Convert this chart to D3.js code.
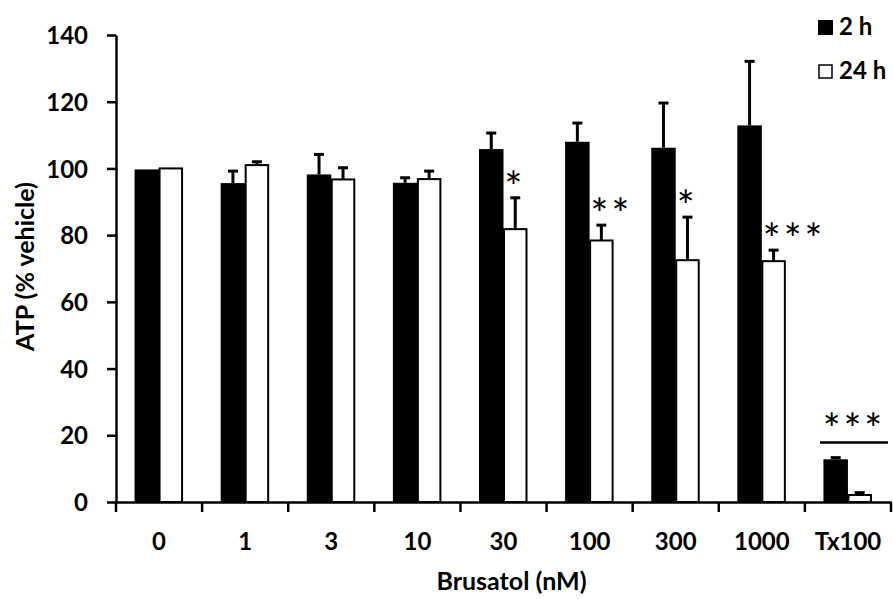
<!DOCTYPE html>
<html>
<head>
<meta charset="utf-8">
<script src="https://cdn.jsdelivr.net/npm/d3@7"></script>
<style>
  html, body { margin: 0; padding: 0; background: #fff; }
  svg { display: block; }
  text { font-family: Lato, "Open Sans", sans-serif; fill: #000; }
</style>
</head>
<body>
<svg id="chart" width="893" height="599"></svg>
<script>
// ---- data ----
const categories = ["0", "1", "3", "10", "30", "100", "300", "1000", "Tx100"];
const seriesNames = ["2 h", "24 h"];
const mean2h  = [99.7, 95.6, 98.2, 95.7, 105.8, 108.0, 106.2, 112.9, 12.8];
const err2h   = [0, 3.6, 6.0, 1.5, 4.8, 5.6, 13.4, 19.2, 0.5];
const mean24h = [100.0, 101.0, 96.7, 96.8, 81.8, 78.4, 72.5, 72.2, 2.1];
const err24h  = [0, 1.0, 3.5, 2.4, 9.4, 4.6, 12.9, 3.3, 0.7];
const sig24h  = ["", "", "", "", "*", "**", "*", "***", ""];
const yTicks  = [0, 20, 40, 60, 80, 100, 120, 140];
const txBracketValue = 17.8;
const txBracketLabel = "***";
const xTitle = "Brusatol (nM)";
const yTitle = "ATP (% vehicle)";

// ---- layout ----
const svg = d3.select("#chart");
const mLeft = 116, mRight = 891, mTop = 35, mBottom = 502;
const x = d3.scaleBand().domain(categories).range([mLeft, mRight]).paddingInner(0).paddingOuter(0);
const y = d3.scaleLinear().domain([0, 140]).range([mBottom, mTop]);
const barW = 24.5;
const center = c => x(c) + x.bandwidth() / 2;
const starFont = "'DejaVu Sans', sans-serif";
const starSize = 42;

const g = svg.append("g");
const rows = categories.map((c, i) => ({c, m2: mean2h[i], e2: err2h[i], m24: mean24h[i], e24: err24h[i], s: sig24h[i]}));

function errBar(sel, xf, mf, ef) {
  const d = sel.filter(r => ef(r) > 0);
  d.append("line")
    .attr("x1", xf).attr("x2", xf)
    .attr("y1", r => y(mf(r))).attr("y2", r => y(mf(r) + ef(r)))
    .attr("stroke", "#000").attr("stroke-width", 3);
  d.append("line")
    .attr("x1", r => xf(r) - 5).attr("x2", r => xf(r) + 5)
    .attr("y1", r => y(mf(r) + ef(r))).attr("y2", r => y(mf(r) + ef(r)))
    .attr("stroke", "#000").attr("stroke-width", 3);
}
const grp = g.selectAll("g.cat").data(rows).join("g").attr("class", "cat");
errBar(grp, r => center(r.c) - barW / 2, r => r.m2, r => r.e2);
errBar(grp, r => center(r.c) + barW / 2 - 0.5, r => r.m24, r => r.e24);

grp.append("rect")
  .attr("x", r => center(r.c) - barW)
  .attr("width", barW)
  .attr("y", r => y(r.m2))
  .attr("height", r => y(0) - y(r.m2))
  .attr("fill", "#000");
grp.append("rect")
  .attr("x", r => center(r.c) + 0.5)
  .attr("width", barW - 2)
  .attr("y", r => y(r.m24))
  .attr("height", r => y(0) - y(r.m24))
  .attr("fill", "#fff").attr("stroke", "#000").attr("stroke-width", 2);

grp.filter(r => r.s).append("text")
  .attr("x", r => center(r.c) + 1)
  .attr("y", r => y(r.m24 + r.e24) + 4)
  .attr("font-family", starFont)
  .attr("font-size", starSize)
  .attr("letter-spacing", 3)
  .text(r => r.s);

const tx = categories[categories.length - 1];
g.append("line")
  .attr("x1", center(tx) - 28).attr("x2", center(tx) + 40)
  .attr("y1", y(txBracketValue)).attr("y2", y(txBracketValue))
  .attr("stroke", "#000").attr("stroke-width", 2.5);
g.append("text")
  .attr("x", center(tx) + 6)
  .attr("y", y(txBracketValue) + 1)
  .attr("text-anchor", "middle")
  .attr("font-family", starFont)
  .attr("font-size", starSize)
  .attr("letter-spacing", 3)
  .text(txBracketLabel);

const yAxis = svg.append("g").attr("transform", `translate(${mLeft},0)`)
  .call(d3.axisLeft(y).tickValues(yTicks).tickSize(9).tickSizeOuter(0).tickPadding(19));
yAxis.select(".domain").attr("stroke", "#000").attr("stroke-width", 2.5);
yAxis.selectAll(".tick line").attr("stroke", "#000").attr("stroke-width", 2.5);
yAxis.selectAll(".tick text").attr("font-size", 24).attr("font-weight", 700)
  .attr("font-family", "Lato, sans-serif").attr("dy", "0.36em");

const xAxis = svg.append("g").attr("transform", `translate(0,${mBottom})`)
  .call(d3.axisBottom(x).tickSize(0).tickSizeOuter(0).tickPadding(0));
xAxis.select(".domain").attr("stroke", "#000").attr("stroke-width", 2.5);
xAxis.selectAll(".tick text").attr("font-size", 24).attr("font-weight", 700)
  .attr("font-family", "Lato, sans-serif").attr("y", 48).attr("dy", 0);
xAxis.selectAll("line.bound").data(d3.range(categories.length + 1)).join("line")
  .attr("class", "bound")
  .attr("x1", i => mLeft + i * x.step()).attr("x2", i => mLeft + i * x.step())
  .attr("y1", 0).attr("y2", 10)
  .attr("stroke", "#000").attr("stroke-width", 2.5);

svg.append("text")
  .attr("x", (mLeft + mRight) / 2 + 8).attr("y", 590)
  .attr("text-anchor", "middle").attr("font-size", 25).attr("font-weight", 700)
  .text(xTitle);
svg.append("text")
  .attr("transform", `translate(34,${(y(0) + y(140)) / 2 - 2}) rotate(-90)`)
  .attr("text-anchor", "middle").attr("font-size", 25).attr("font-weight", 700)
  .text(yTitle);

const lg = svg.append("g").attr("transform", "translate(818,20)");
seriesNames.forEach((name, i) => {
  const row = lg.append("g").attr("transform", `translate(0,${i * 44})`);
  row.append("rect").attr("x", i ? 1 : 0).attr("y", i ? 1 : 0)
    .attr("width", i ? 13 : 15).attr("height", i ? 13 : 15)
    .attr("fill", i ? "#fff" : "#000").attr("stroke", "#000").attr("stroke-width", i ? 1.5 : 0);
  row.append("text").attr("x", 21).attr("y", 15)
    .attr("font-size", 24).attr("font-weight", 700).text(name);
});
</script>
</body>
</html>
